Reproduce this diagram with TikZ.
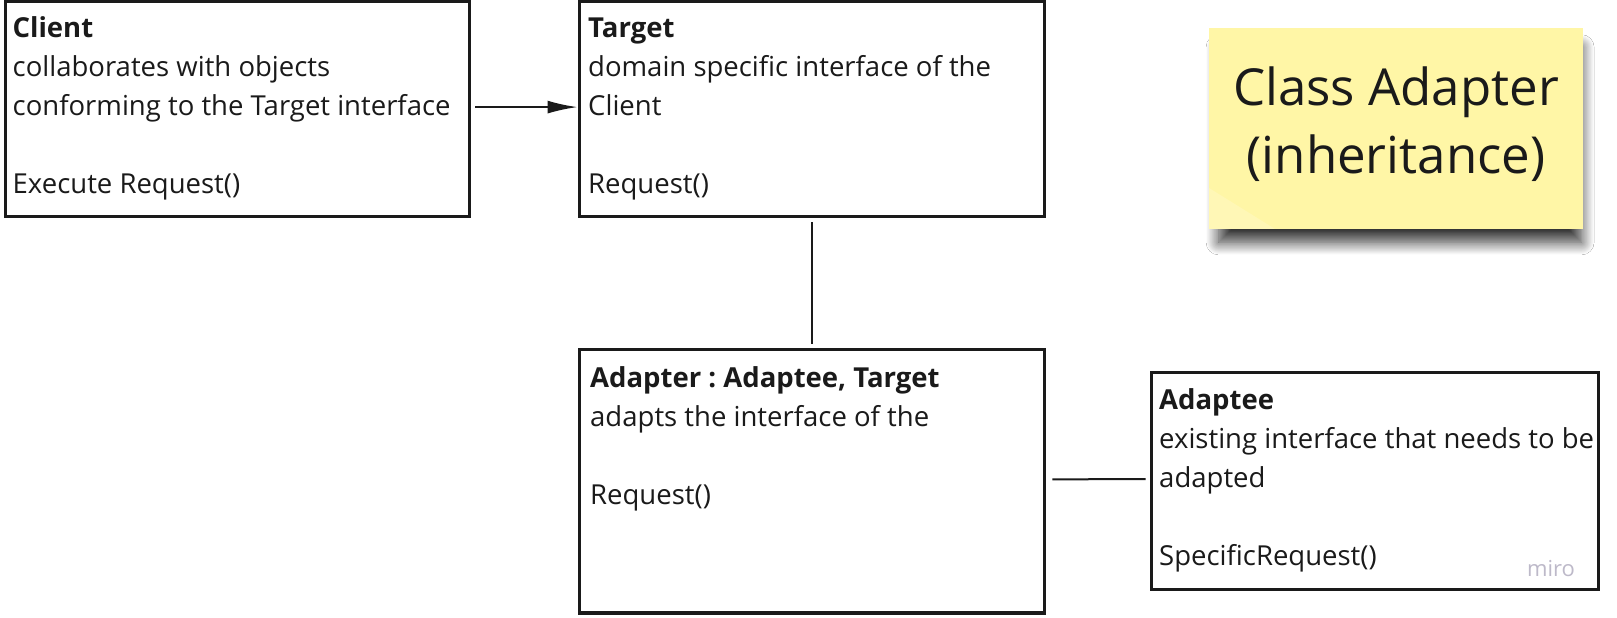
\documentclass[tikz,border=0pt]{standalone}
\usepackage{fontspec}
\setmainfont{Open Sans}
\usetikzlibrary{arrows.meta,shadows.blur}
\definecolor{ink}{HTML}{1A1A1A}
\definecolor{sticky}{HTML}{FFF6A6}
\definecolor{mirogray}{HTML}{BDB9C9}
\frenchspacing
\newcommand{\boxlines}[1]{\begin{tabular}[t]{@{}l@{}}#1\end{tabular}}
\tikzset{
  umlbox/.style={draw=ink, line width=3.8pt, fill=white, rectangle, inner sep=0pt, anchor=south west},
  boxtext/.style={anchor=base west, inner sep=0pt, text=ink, font=\fontsize{27.5}{38.8}\selectfont},
  link/.style={draw=ink, line width=2pt},
  stickynote/.style={fill=sticky, rectangle, inner sep=0pt, anchor=south west,
    blur shadow={shadow xshift=4pt, shadow yshift=-17pt, shadow blur radius=13pt, shadow blur steps=16, shadow opacity=80, shadow scale=0.97}},
  stickytext/.style={anchor=base, inner sep=0pt, text=ink, font=\fontsize{51}{68}\selectfont, align=center},
}
\begin{document}
\begin{tikzpicture}[x=1pt,y=1pt]
\fill[white] (0,0) rectangle (1617,618);
\useasboundingbox (0,0) rectangle (1617,618);

% boxes
\node[umlbox, minimum width=464pt, minimum height=215pt] (client) at (3.5,399.5) {};
\node[umlbox, minimum width=465pt, minimum height=215pt] (target) at (577.5,399.5) {};
\node[umlbox, minimum width=465pt, minimum height=263.5pt] (adapter) at (577.5,3) {};
\node[umlbox, minimum width=447pt, minimum height=217pt] (adaptee) at (1149.5,26.5) {};

% texts
\node[boxtext] (clienttext) at (12.5,580) {\boxlines{\textbf{Client}\\ collaborates with objects\\ conforming to the Target interface\\ \\ Execute Request()}};
\node[boxtext] (targettext) at (588,580) {\boxlines{\textbf{Target}\\ domain specific interface of the\\ Client\\ \\ Request()}};
\node[boxtext] (adaptertext) at (590,230) {\boxlines{\textbf{Adapter : Adaptee, Target}\\ adapts the interface of the\\ \\ Request()}};
\node[boxtext] (adapteetext) at (1159,208) {\boxlines{\textbf{Adaptee}\\ existing interface that needs to be\\ adapted\\ \\ SpecificRequest()}};

% connectors
\draw[link, -{Latex[length=30pt,width=13pt]}] ([shift={(4pt,2pt)}]client.east) -- ([yshift=2pt]target.west);
\draw[link] ([yshift=-4pt]target.south) -- ([yshift=4pt]adapter.north);
\draw[link] ([shift={(6pt,2pt)}]adapter.east) -- ([shift={(-4pt,2pt)}]adaptee.west);

% sticky note
\node[stickynote, minimum width=374pt, minimum height=201pt] (note) at (1209,389) {};
\fill[white, opacity=0.18] (note.south west) -- ++(0,41) -- ++(66,-41) -- cycle;
\node[stickytext] (notetext) at (1396,512) {\begin{tabular}[t]{@{}c@{}}Class Adapter\\ (inheritance)\end{tabular}};

% watermark
\node[anchor=base, inner sep=0pt, text=mirogray, font=\fontsize{22}{26}\selectfont] (miro) at (1551,41) {miro};
\end{tikzpicture}
\end{document}
